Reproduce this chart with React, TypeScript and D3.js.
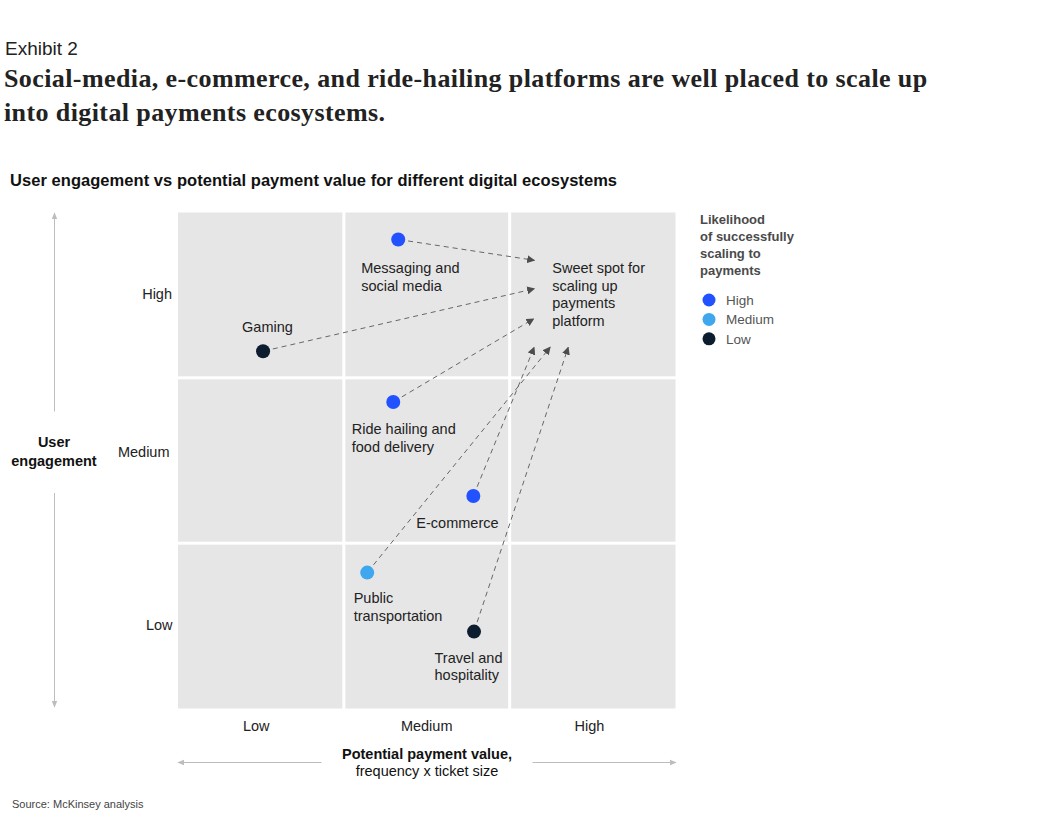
import React from "react";
import * as d3 from "d3";

const levelLabels = ["Low", "Medium", "High"];
const ecosystems = [
  ["Messaging and", "social media"],
  ["Gaming"],
  ["Ride hailing and", "food delivery"],
  ["E-commerce"],
  ["Public", "transportation"],
  ["Travel and", "hospitality"],
];
const paymentValue = [1.328, 0.513, 1.298, 1.781, 1.141, 1.785];
const engagement = [2.837, 2.161, 1.854, 1.285, 0.822, 0.465];
const likelihood = ["High", "Low", "High", "High", "Medium", "Low"];
const targetX = [2.155, 2.155, 2.15, 2.15, 2.248, 2.355];
const targetY = [2.71, 2.54, 2.36, 2.19, 2.19, 2.19];
const sweetSpotLines = ["Sweet spot for", "scaling up", "payments", "platform"];
const legendTitle = ["Likelihood", "of successfully", "scaling to", "payments"];
const legendLevels = ["High", "Medium", "Low"];

// label layout (offsets from dot centre, px)
const labelDx = [-37, -21, -41.5, -57, -13.5, -39.5];
const labelDy = [34, -19, 32, 32, 30.5, 31];

const colorOf: Record<string, string> = {
  High: "#2251ff",
  Medium: "#3fa7ee",
  Low: "#0b1d2e",
};

const FONT = "'Liberation Sans', Arial, sans-serif";

export default function App() {
  const W = 1040;
  const H = 832;
  const x = d3.scaleLinear().domain([0, 3]).range([178, 675.5]);
  const y = d3.scaleLinear().domain([0, 3]).range([708.5, 212.5]);
  const gap = 1.5;
  const cells: { x0: number; x1: number; y0: number; y1: number }[] = [];
  for (let i = 0; i < 3; i++)
    for (let j = 0; j < 3; j++) {
      cells.push({
        x0: x(i) + (i > 0 ? gap : 0),
        x1: x(i + 1) - (i < 2 ? gap : 0),
        y0: y(j + 1) + (j < 2 ? gap : 0),
        y1: y(j) - (j > 0 ? gap : 0),
      });
    }
  const r = 7;

  const arrows = paymentValue.map((v, i) => {
    const cx = x(v);
    const cy = y(engagement[i]);
    const tx = x(targetX[i]);
    const ty = y(targetY[i]);
    const dx = tx - cx;
    const dy = ty - cy;
    const len = Math.hypot(dx, dy);
    const s = (r + 3) / len;
    const e = (len - 1) / len;
    return {
      x1: cx + dx * s,
      y1: cy + dy * s,
      x2: cx + dx * e,
      y2: cy + dy * e,
    };
  });

  const yLabelY = [630, 456.5, 299];
  const yLabelX = [172.5, 169.5, 172];
  const xLabelX = [256.3, 426.7, 589.5];

  return (
    <svg
      width={W}
      height={H}
      style={{ position: "absolute", left: 0, top: 0, background: "#fff" }}
      fontFamily={FONT}
    >
      <defs>
        <marker
          id="ah"
          viewBox="0 0 10 10"
          refX="9"
          refY="5"
          markerWidth="8"
          markerHeight="8"
          markerUnits="userSpaceOnUse"
          orient="auto"
        >
          <path d="M0,0 L10,5 L0,10 z" fill="#4d4d4d" />
        </marker>
        <marker
          id="ga"
          viewBox="0 0 10 10"
          refX="9"
          refY="5"
          markerWidth="7"
          markerHeight="7"
          markerUnits="userSpaceOnUse"
          orient="auto"
        >
          <path d="M0,1 L10,5 L0,9 z" fill="#bdbdbd" />
        </marker>
      </defs>

      <text x={5} y={55} fontSize={19} fill="#222" fontWeight={300}>
        Exhibit 2
      </text>
      <text
        fontFamily="'Liberation Serif', 'DejaVu Serif', serif"
        fontWeight="bold"
        fontSize={26}
        letterSpacing={0.4}
        fill="#222"
      >
        <tspan x={4} y={87}>
          Social-media, e-commerce, and ride-hailing platforms are well placed to scale up
        </tspan>
        <tspan x={4} y={121}>into digital payments ecosystems.</tspan>
      </text>
      <text x={10} y={186} fontSize={16.5} fontWeight="bold" fill="#111" letterSpacing={0.05}>
        User engagement vs potential payment value for different digital ecosystems
      </text>

      {cells.map((c, i) => (
        <rect key={i} x={c.x0} y={c.y0} width={c.x1 - c.x0} height={c.y1 - c.y0} fill="#e6e6e6" />
      ))}

      {/* y axis labels */}
      {levelLabels.map((l, i) => (
        <text key={l} x={yLabelX[i]} y={yLabelY[i]} fontSize={14.5} textAnchor="end" fill="#222">
          {l}
        </text>
      ))}
      {/* x axis labels */}
      {levelLabels.map((l, i) => (
        <text key={l} x={xLabelX[i]} y={730.5} fontSize={14.5} textAnchor="middle" fill="#222">
          {l}
        </text>
      ))}

      {/* y axis title and arrows */}
      <line x1={54.5} x2={54.5} y1={411.5} y2={213} stroke="#bdbdbd" strokeWidth={1} markerEnd="url(#ga)" />
      <line x1={54.5} x2={54.5} y1={493} y2={707} stroke="#bdbdbd" strokeWidth={1} markerEnd="url(#ga)" />
      <text fontSize={14.5} fontWeight="bold" textAnchor="middle" fill="#111">
        <tspan x={54} y={447}>User</tspan>
        <tspan x={54} y={465.5}>engagement</tspan>
      </text>

      {/* x axis title and arrows */}
      <line x1={321.5} x2={178} y1={762.5} y2={762.5} stroke="#bdbdbd" strokeWidth={1} markerEnd="url(#ga)" />
      <line x1={532.5} x2={676} y1={762.5} y2={762.5} stroke="#bdbdbd" strokeWidth={1} markerEnd="url(#ga)" />
      <text fontSize={14.5} textAnchor="middle" fill="#111">
        <tspan x={427} y={758.5} fontWeight="bold">Potential payment value,</tspan>
        <tspan x={427} y={776}>frequency x ticket size</tspan>
      </text>

      {/* arrows */}
      {arrows.map((a, i) => (
        <line
          key={i}
          x1={a.x1}
          y1={a.y1}
          x2={a.x2}
          y2={a.y2}
          stroke="#666"
          strokeWidth={1}
          strokeDasharray="5,4"
          markerEnd="url(#ah)"
        />
      ))}

      {/* sweet spot */}
      <text fontSize={14.5} fill="#222">
        {sweetSpotLines.map((l, i) => (
          <tspan key={i} x={552.3} y={273 + i * 17.7}>
            {l}
          </tspan>
        ))}
      </text>

      {/* dots and labels */}
      {paymentValue.map((v, i) => {
        const cx = x(v);
        const cy = y(engagement[i]);
        return (
          <g key={i}>
            <circle cx={cx} cy={cy} r={r} fill={colorOf[likelihood[i]]} />
            <text fontSize={14.5} fill="#222">
              {ecosystems[i].map((l, k) => (
                <tspan key={k} x={cx + labelDx[i]} y={cy + labelDy[i] + k * 17.8}>
                  {l}
                </tspan>
              ))}
            </text>
          </g>
        );
      })}

      {/* legend */}
      <text fontSize={13} fontWeight="bold" fill="#4a4a4a">
        {legendTitle.map((l, i) => (
          <tspan key={i} x={700} y={224 + i * 16.9}>
            {l}
          </tspan>
        ))}
      </text>
      {legendLevels.map((l, i) => (
        <g key={l}>
          <circle cx={709} cy={300 + i * 19.4} r={6.5} fill={colorOf[l]} />
          <text x={726} y={305 + i * 19.4} fontSize={13.5} fill="#555">
            {l}
          </text>
        </g>
      ))}

      <text x={12} y={808} fontSize={11} fill="#444">
        Source: McKinsey analysis
      </text>
    </svg>
  );
}
